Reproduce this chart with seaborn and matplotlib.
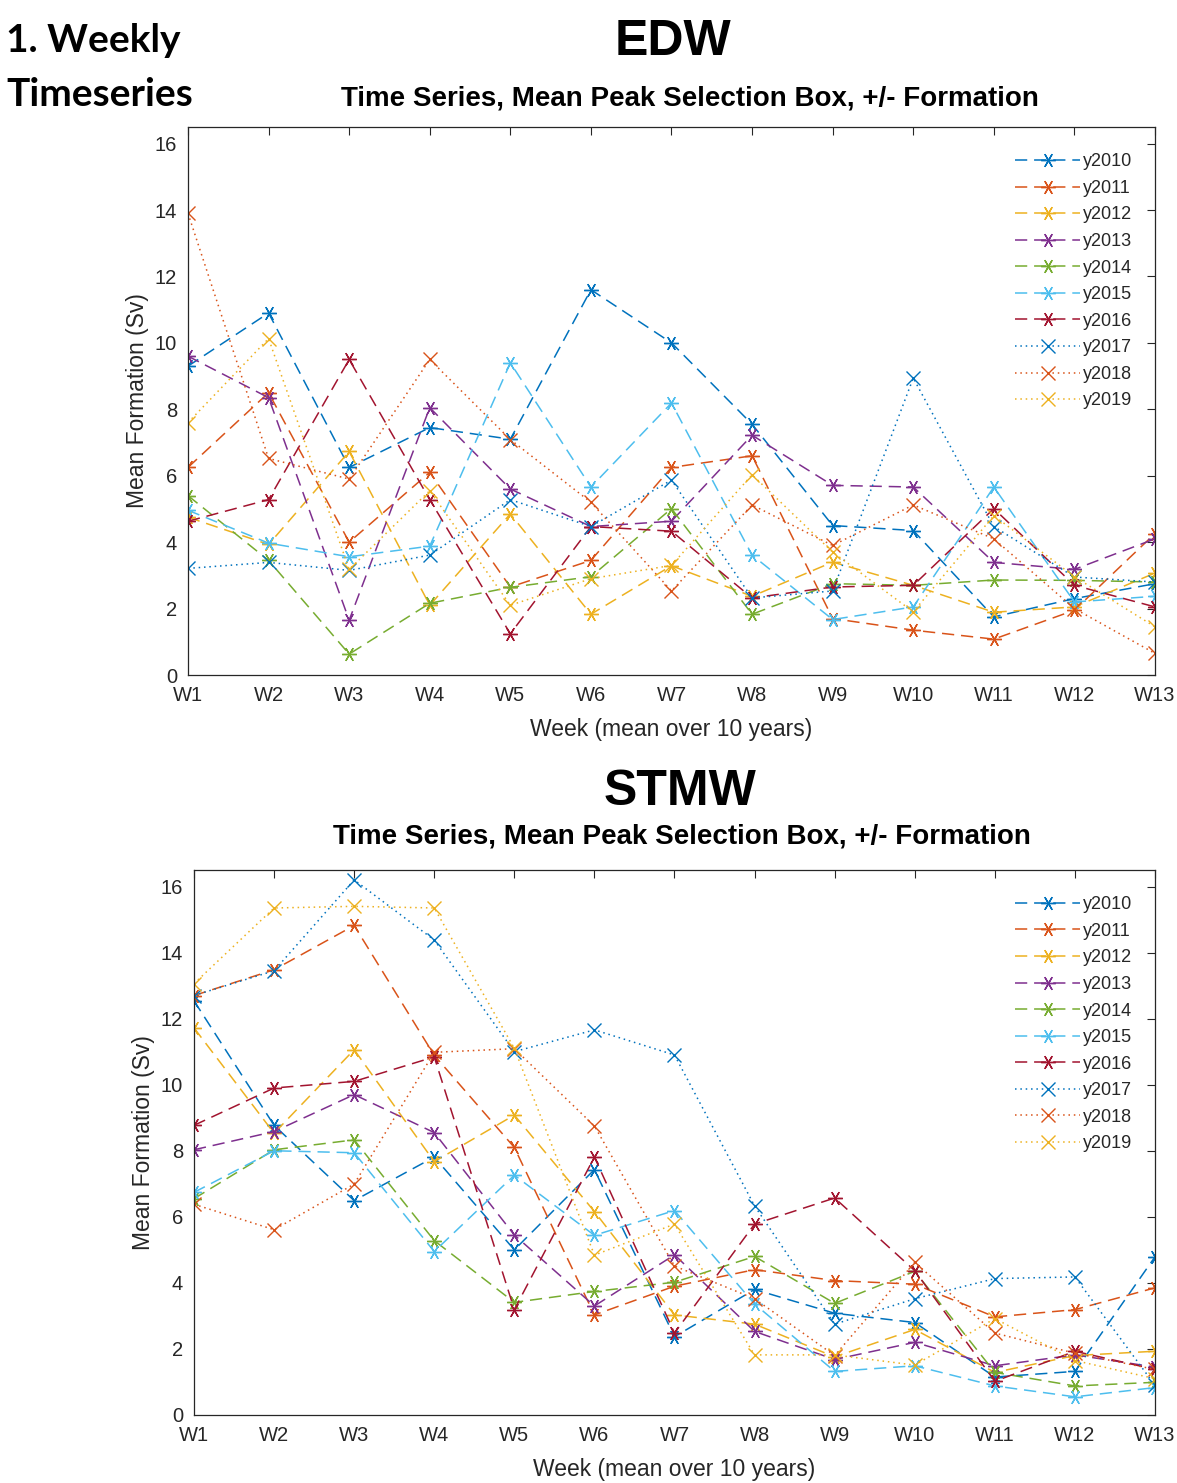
import pandas as pd
import matplotlib.pyplot as plt
import seaborn as sns

WEEKS = [f"W{i}" for i in range(1, 14)]
YEARS = [f"y{y}" for y in range(2010, 2020)]
YTICKS = list(range(0, 17, 2))

# EDW weekly mean formation (Sv)
edw_y2010 = [9.3, 10.9, 6.25, 7.45, 7.1, 11.6, 10.0, 7.55, 4.5, 4.35, 1.75, 2.3, 2.75]
edw_y2011 = [6.25, 8.5, 4.0, 6.1, 2.65, 3.45, 6.25, 6.6, 1.7, 1.35, 1.08, 1.95, 4.26]
edw_y2012 = [4.75, 3.93, 6.73, 2.1, 4.85, 1.83, 3.29, 2.37, 3.4, 2.7, 1.89, 2.05, 3.07]
edw_y2013 = [9.6, 8.35, 1.65, 8.05, 5.6, 4.47, 4.63, 7.22, 5.71, 5.66, 3.39, 3.18, 4.1]
edw_y2014 = [5.4, 3.45, 0.63, 2.16, 2.64, 2.96, 5.01, 1.83, 2.75, 2.7, 2.86, 2.85, 2.8]
edw_y2015 = [4.96, 3.97, 3.56, 3.88, 9.4, 5.66, 8.19, 3.61, 1.67, 2.05, 5.66, 2.2, 2.37]
edw_y2016 = [4.63, 5.28, 9.5, 5.28, 1.24, 4.47, 4.33, 2.32, 2.65, 2.7, 5.01, 2.7, 2.05]
edw_y2017 = [3.21, 3.39, 3.15, 3.61, 5.28, 4.47, 5.87, 2.32, 2.53, 8.94, 4.47, 2.95, 2.8]
edw_y2018 = [13.9, 6.52, 5.9, 9.5, 7.09, 5.2, 2.53, 5.12, 3.9, 5.12, 4.1, 2.0, 0.65]
edw_y2019 = [7.6, 10.13, 3.18, 5.55, 2.1, 2.9, 3.3, 6.03, 3.7, 1.9, 4.8, 2.96, 1.45]

# STMW weekly mean formation (Sv)
stmw_y2010 = [12.54, 8.77, 6.49, 7.81, 5.0, 7.43, 2.37, 3.8, 3.08, 2.8, 1.15, 1.32, 4.79]
stmw_y2011 = [12.7, 13.48, 14.82, 10.89, 8.1, 3.03, 3.9, 4.4, 4.07, 3.96, 2.97, 3.19, 3.85]
stmw_y2012 = [11.72, 8.53, 11.06, 7.67, 9.08, 6.16, 3.03, 2.75, 1.76, 2.59, 1.29, 1.8, 1.93]
stmw_y2013 = [8.03, 8.58, 9.7, 8.55, 5.45, 3.3, 4.85, 2.53, 1.68, 2.2, 1.49, 1.82, 1.45]
stmw_y2014 = [6.55, 8.03, 8.33, 5.28, 3.41, 3.74, 4.02, 4.8, 3.38, 4.35, 1.29, 0.88, 0.99]
stmw_y2015 = [6.74, 8.0, 7.94, 4.95, 7.26, 5.44, 6.19, 3.36, 1.32, 1.49, 0.88, 0.55, 0.83]
stmw_y2016 = [8.77, 9.9, 10.1, 10.84, 3.19, 7.81, 2.48, 5.78, 6.57, 4.37, 1.02, 1.93, 1.38]
stmw_y2017 = [12.7, 13.45, 16.2, 14.38, 11.0, 11.66, 10.9, 6.33, 2.75, 3.52, 4.13, 4.18, 0.9]
stmw_y2018 = [6.38, 5.61, 6.99, 10.98, 11.09, 8.75, 4.51, 3.52, 1.8, 4.62, 2.48, 1.87, 1.38]
stmw_y2019 = [13.06, 15.35, 15.4, 15.35, 11.1, 4.84, 5.78, 1.82, 1.82, 1.51, 2.92, 1.65, 1.1]

EDW = [edw_y2010, edw_y2011, edw_y2012, edw_y2013, edw_y2014,
       edw_y2015, edw_y2016, edw_y2017, edw_y2018, edw_y2019]
STMW = [stmw_y2010, stmw_y2011, stmw_y2012, stmw_y2013, stmw_y2014,
        stmw_y2015, stmw_y2016, stmw_y2017, stmw_y2018, stmw_y2019]

MATLAB_COLORS = ["#0072BD", "#D95319", "#EDB120", "#7E2F8E",
                 "#77AC30", "#4DBEEE", "#A2142F"]
PALETTE = {yr: MATLAB_COLORS[i % 7] for i, yr in enumerate(YEARS)}
DASHES = {yr: ((8, 4.5) if i < 7 else (1, 2.5)) for i, yr in enumerate(YEARS)}
MARKERS = {yr: ((6, 2, 90) if i < 7 else "x") for i, yr in enumerate(YEARS)}

FIG_W, FIG_H = 1177, 1483
INK = "#262626"

sns.set_theme(style="white")
plt.rcParams["font.family"] = ["Liberation Sans", "DejaVu Sans"]


def to_long(series):
    rows = []
    for yr, vals in zip(YEARS, series):
        for k, v in enumerate(vals):
            rows.append({"week": k + 1, "year": yr, "formation": v})
    return pd.DataFrame(rows)


def px(x, y):
    return x / FIG_W, 1 - y / FIG_H


def draw_panel(ax, series):
    df = to_long(series)
    sns.lineplot(data=df, x="week", y="formation", hue="year", style="year",
                 hue_order=YEARS, style_order=YEARS, palette=PALETTE,
                 dashes=DASHES, markers=MARKERS, markersize=10.5,
                 markeredgewidth=1.0, markeredgecolor=None, linewidth=1.1,
                 legend=False, ax=ax)
    ax.set_xlim(1, 13)
    ax.set_ylim(0, 16.5)
    ax.set_xticks(range(1, 14))
    ax.set_xticklabels(WEEKS)
    ax.set_yticks(YTICKS)
    ax.tick_params(direction="in", length=6, width=0.8, top=True, right=True,
                   labelsize=14.5, colors=INK, pad=8)
    for sp in ax.spines.values():
        sp.set_color(INK)
        sp.set_linewidth(0.9)
    ax.set_xlabel("Week (mean over 10 years)", fontsize=16.5, color=INK, labelpad=9)
    ax.set_ylabel("Mean Formation (Sv)", fontsize=16.5, color=INK, labelpad=4)
    handles = ax.get_lines()[:len(YEARS)]
    ax.legend(handles, YEARS, loc="upper right", frameon=False, fontsize=13,
              handlelength=3.6, handletextpad=0.15, labelspacing=0.53,
              borderaxespad=0.6, bbox_to_anchor=(0.995, 0.985))


fig = plt.figure(figsize=(FIG_W / 100, FIG_H / 100), dpi=100)
ax1 = fig.add_axes([188 / FIG_W, 1 - 675 / FIG_H, (1155 - 188) / FIG_W, (675 - 127) / FIG_H])
ax2 = fig.add_axes([194 / FIG_W, 1 - 1415 / FIG_H, (1155 - 194) / FIG_W, (1415 - 870) / FIG_H])
draw_panel(ax1, EDW)
draw_panel(ax2, STMW)

head = dict(fontfamily=["Lato", "DejaVu Sans"], fontweight="bold", fontsize=28,
            color="black", ha="left", va="center")
fig.text(*px(6, 40), "1. Weekly", **head)
fig.text(*px(6, 95), "Timeseries", **head)

big = dict(fontfamily=["Liberation Sans", "DejaVu Sans"], fontweight="bold",
           fontsize=36, color="black", ha="center", va="center")
sub = dict(fontfamily=["Liberation Sans", "DejaVu Sans"], fontweight="bold",
           fontsize=20, color="black", ha="center", va="center")
fig.text(*px(673, 42), "EDW", **big)
fig.text(*px(690, 98), "Time Series, Mean Peak Selection Box, +/- Formation", **sub)
fig.text(*px(680, 792), "STMW", **big)
fig.text(*px(682, 836), "Time Series, Mean Peak Selection Box, +/- Formation", **sub)

fig.savefig("out.png", dpi=100)
